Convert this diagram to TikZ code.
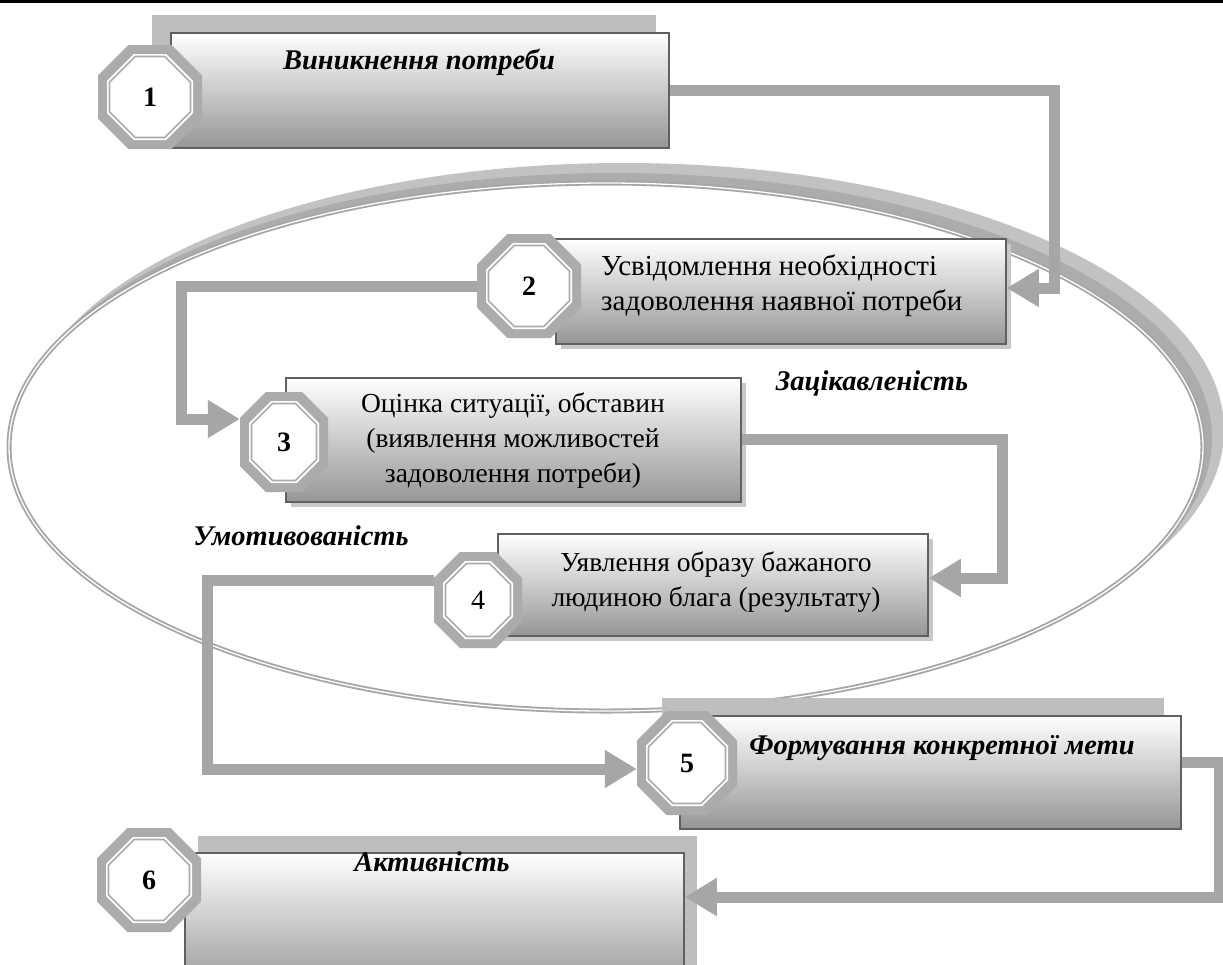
\documentclass[tikz,border=0pt]{standalone}
\usepackage{fontspec}
\setmainfont{Liberation Serif}
\usetikzlibrary{arrows.meta,calc}
\definecolor{cgray}{HTML}{A6A6A6}
\definecolor{bandgray}{HTML}{ABABAB}
\definecolor{shad}{HTML}{BEBEBE}
\definecolor{lshad}{HTML}{C8C8C8}
\definecolor{bord}{HTML}{606060}
\definecolor{bot}{HTML}{969696}
\definecolor{mid}{HTML}{DCDCDC}
\definecolor{ring}{HTML}{C2C2C2}
\definecolor{ringd}{HTML}{ACACAC}
% cx, cy, half width, half height, cut
\newcommand\octpath[5]{({(#1)-(#3)+(#5)},{(#2)-(#4)}) -- ({(#1)+(#3)-(#5)},{(#2)-(#4)}) -- ({(#1)+(#3)},{(#2)-(#4)+(#5)}) -- ({(#1)+(#3)},{(#2)+(#4)-(#5)}) -- ({(#1)+(#3)-(#5)},{(#2)+(#4)}) -- ({(#1)-(#3)+(#5)},{(#2)+(#4)}) -- ({(#1)-(#3)},{(#2)+(#4)-(#5)}) -- ({(#1)-(#3)},{(#2)-(#4)+(#5)}) -- cycle}
% name, cx, cy, half width, half height, label
\newcommand\octnode[6]{%
  \fill[octband] \octpath{#2}{#3}{#4}{#5}{0.586*#4};
  \fill[white] \octpath{#2}{#3}{#4-9}{#5-9}{0.586*#4-3.7};
  \draw[octline] \octpath{#2}{#3}{#4-11.5}{#5-11.5}{0.586*#4-4.8};
  \node[numstyle, minimum width=2*#4, minimum height=2*#5] (#1) at (#2,#3) {#6};
}
\tikzset{
  octband/.style={fill=bandgray},
  octline/.style={draw=bandgray, line width=1.6pt},
  numstyle/.style={inner sep=0pt, font=\fontsize{28}{30}\selectfont},
  boxstyle/.style={draw=bord, line width=1.8pt, top color=white, middle color=mid, bottom color=bot, inner sep=0pt, anchor=north west},
  bigshadow/.style={fill=shad, draw=none},
  smallshadow/.style={fill=lshad, draw=none},
  conn/.style={draw=cgray, line width=11pt, line join=miter, -{Triangle[length=32pt,width=36pt]}},
  txt/.style={inner sep=0pt, font=\fontsize{27.5}{35}\selectfont, align=center},
  titletxt/.style={inner sep=0pt, anchor=base, font=\fontsize{28.5}{30}\selectfont\bfseries\itshape},
}
\begin{document}
\begin{tikzpicture}[x=1pt,y=-1pt]
\useasboundingbox (0,0) rectangle (1223,964);
\clip (0,0) rectangle (1223,964);
\fill[black] (0,0) rectangle (1223,3);
% ellipse
\fill[ring] (624,430) ellipse [x radius=600, y radius=267];
\fill[ringd] (614,438) ellipse [x radius=598, y radius=265];
\draw[draw=cgray, line width=5pt, fill=white] (606,447) ellipse [x radius=597, y radius=264];
\draw[white, line width=1.3pt] (606,447) ellipse [x radius=597, y radius=264];
% shadows
\fill[bigshadow] (152,15) rectangle (656,130);
\fill[bigshadow] (662,698) rectangle (1164,811);
\fill[bigshadow] (198,836) rectangle (697,975);
\fill[smallshadow] (561,244) rectangle (1011,349);
\fill[smallshadow] (291,383) rectangle (746,507);
\fill[smallshadow] (503,539) rectangle (933,641);
% boxes
\node[boxstyle, minimum width=498, minimum height=115] (b1) at (170,32) {};
\node[boxstyle, minimum width=450, minimum height=105] (b2) at (555,238) {};
\node[boxstyle, minimum width=455, minimum height=124] (b3) at (285,377) {};
\node[boxstyle, minimum width=430, minimum height=102] (b4) at (497,533) {};
\node[boxstyle, minimum width=501, minimum height=113] (b5) at (679,715) {};
\node[boxstyle, minimum width=499, minimum height=140] (b6) at (184,852) {};
% octagons
\octnode{o1}{150}{97}{52}{52}{\bfseries 1}
\octnode{o2}{529}{286}{52}{52}{\bfseries 2}
\octnode{o3}{284}{442}{44}{50}{\bfseries 3}
\octnode{o4}{478}{600}{44}{48}{4}
\octnode{o5}{687}{763}{50}{52}{\bfseries 5}
\octnode{o6}{149}{880}{52}{52}{\bfseries 6}
% connectors
\coordinate (k12) at (1054,288);
\coordinate (k23) at (181,419);
\coordinate (k34) at (1002,578);
\coordinate (k45a) at (207,580);
\coordinate (k45b) at (207,769);
\coordinate (k56a) at (1219,762);
\coordinate (k56b) at (1219,897);
\draw[conn] (b1.east) -| (k12) -- (k12 -| b2.east);
\draw[conn] (o2.west) -| (k23) -- (k23 -| o3.west);
\draw[conn] (b3.east) -| (k34) -- (k34 -| b4.east);
\draw[conn] (k45a -| o4.west) -- (k45a) -- (k45b) -- (k45b -| o5.west);
\draw[conn] (k56a -| b5.east) -- (k56a) -- (k56b) -- (k56b -| b6.east);
% texts
\node[txt, align=left, anchor=west, font=\fontsize{29}{35}\selectfont] (t2) at (601,286) {Усвідомлення необхідності\\задоволення наявної потреби};
\node[titletxt] (t1) at (419,69) {Виникнення потреби};
\node[txt] (t3) at (513,441) {Оцінка ситуації, обставин\\(виявлення можливостей\\задоволення потреби)};
\node[txt] (t4) at (716,582) {Уявлення образу бажаного\\людиною блага (результату)};
\node[titletxt] (t5) at (942,754) {Формування конкретної мети};
\node[titletxt] (t6) at (432,871) {Активність};
\node[titletxt] (lz) at (872,390) {Зацікавленість};
\node[titletxt] (lu) at (301,545) {Умотивованість};
\end{tikzpicture}
\end{document}
